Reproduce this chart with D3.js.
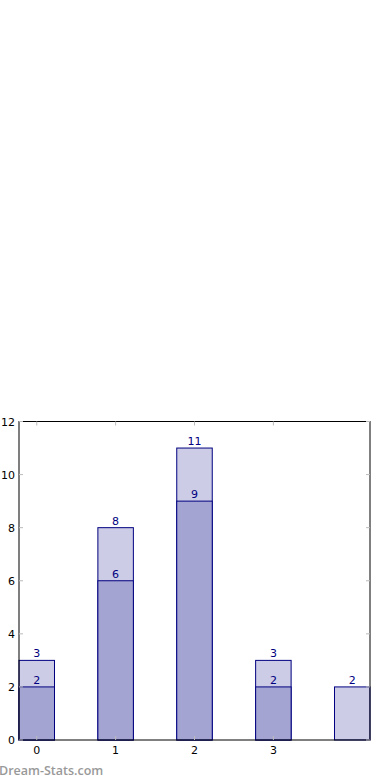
<html>
<head>
  <script src="https://d3js.org/d3.v7.min.js"></script>
  <style>
    body { margin: 0; background: #fff; }
    svg { display: block; }
  </style>
</head>
<body>
<div class="chart"></div>
<script>
var categories = [0, 1, 2, 3, 4];
var totals = [3, 8, 11, 3, 2];
var parts = [2, 6, 9, 2, null];
var xTicks = [0, 1, 2, 3];
var yTicks = [0, 2, 4, 6, 8, 10, 12];

var width = 390, height = 780;
var plotL = 19, plotR = 370, plotT = 421.5, plotB = 740;
var barW = 0.45;

var svg = d3.select(".chart").append("svg")
  .attr("width", width)
  .attr("height", height)
  .style("font-family", "DejaVu Sans, sans-serif");

var x = d3.scaleLinear().domain([-0.225, 4.225]).range([plotL, plotR]);
var y = d3.scaleLinear().domain([0, 12]).range([plotB, plotT]);

// back bars (totals)
svg.selectAll("rect.total")
  .data(categories)
  .enter().append("rect")
  .attr("class", "total")
  .attr("x", function (d) { return x(d - barW / 2); })
  .attr("width", function (d) { return x(barW) - x(0); })
  .attr("y", function (d, i) { return y(totals[i]); })
  .attr("height", function (d, i) { return y(0) - y(totals[i]); })
  .attr("fill", "#cccce6")
  .attr("stroke", "#000080")
  .attr("stroke-width", 1);

// front bars
var partCats = categories.filter(function (d, i) { return parts[i] != null; });
svg.selectAll("rect.part")
  .data(partCats)
  .enter().append("rect")
  .attr("class", "part")
  .attr("x", function (d) { return x(d - barW / 2); })
  .attr("width", function (d) { return x(barW) - x(0); })
  .attr("y", function (d) { return y(parts[d]); })
  .attr("height", function (d) { return y(0) - y(parts[d]); })
  .attr("fill", "#a4a4d2")
  .attr("stroke", "#000080")
  .attr("stroke-width", 1);

// value labels
svg.selectAll("text.tl")
  .data(categories)
  .enter().append("text")
  .attr("class", "tl")
  .attr("x", function (d) { return x(d); })
  .attr("y", function (d, i) { return y(totals[i]) - 3; })
  .attr("text-anchor", "middle")
  .attr("font-size", 11)
  .attr("fill", "#000080")
  .text(function (d, i) { return totals[i]; });

svg.selectAll("text.pl")
  .data(partCats)
  .enter().append("text")
  .attr("class", "pl")
  .attr("x", function (d) { return x(d); })
  .attr("y", function (d) { return y(parts[d]) - 3; })
  .attr("text-anchor", "middle")
  .attr("font-size", 11)
  .attr("fill", "#000080")
  .text(function (d) { return parts[d]; });

// frame
svg.append("rect")
  .attr("x", plotL).attr("y", plotT)
  .attr("width", plotR - plotL).attr("height", plotB - plotT)
  .attr("fill", "none")
  .attr("stroke", "#000")
  .attr("stroke-width", 1);

// ticks (inside, gray)
var tickCol = "#bbb";
yTicks.forEach(function (t) {
  svg.append("line").attr("x1", plotL).attr("x2", plotL + 4)
    .attr("y1", y(t)).attr("y2", y(t)).attr("stroke", tickCol);
  svg.append("line").attr("x1", plotR).attr("x2", plotR - 4)
    .attr("y1", y(t)).attr("y2", y(t)).attr("stroke", tickCol);
});
xTicks.forEach(function (t) {
  svg.append("line").attr("x1", x(t)).attr("x2", x(t))
    .attr("y1", plotB).attr("y2", plotB - 4).attr("stroke", tickCol);
  svg.append("line").attr("x1", x(t)).attr("x2", x(t))
    .attr("y1", plotT).attr("y2", plotT + 4).attr("stroke", tickCol);
});

svg.selectAll("text.yt")
  .data(yTicks)
  .enter().append("text")
  .attr("class", "yt")
  .attr("x", plotL - 4)
  .attr("y", function (d) { return y(d) + 4; })
  .attr("text-anchor", "end")
  .attr("font-size", 11)
  .attr("fill", "#000")
  .text(function (d) { return d; });

svg.selectAll("text.xt")
  .data(xTicks)
  .enter().append("text")
  .attr("class", "xt")
  .attr("x", function (d) { return x(d); })
  .attr("y", plotB + 14)
  .attr("text-anchor", "middle")
  .attr("font-size", 11)
  .attr("fill", "#000")
  .text(function (d) { return d; });

// watermark
svg.append("text")
  .attr("x", -1)
  .attr("y", 775)
  .attr("font-family", "Open Sans, sans-serif")
  .attr("font-size", 12.5)
  .attr("font-weight", 600)
  .attr("fill", "#999")
  .text("Dream-Stats.com");
</script>
</body>
</html>
